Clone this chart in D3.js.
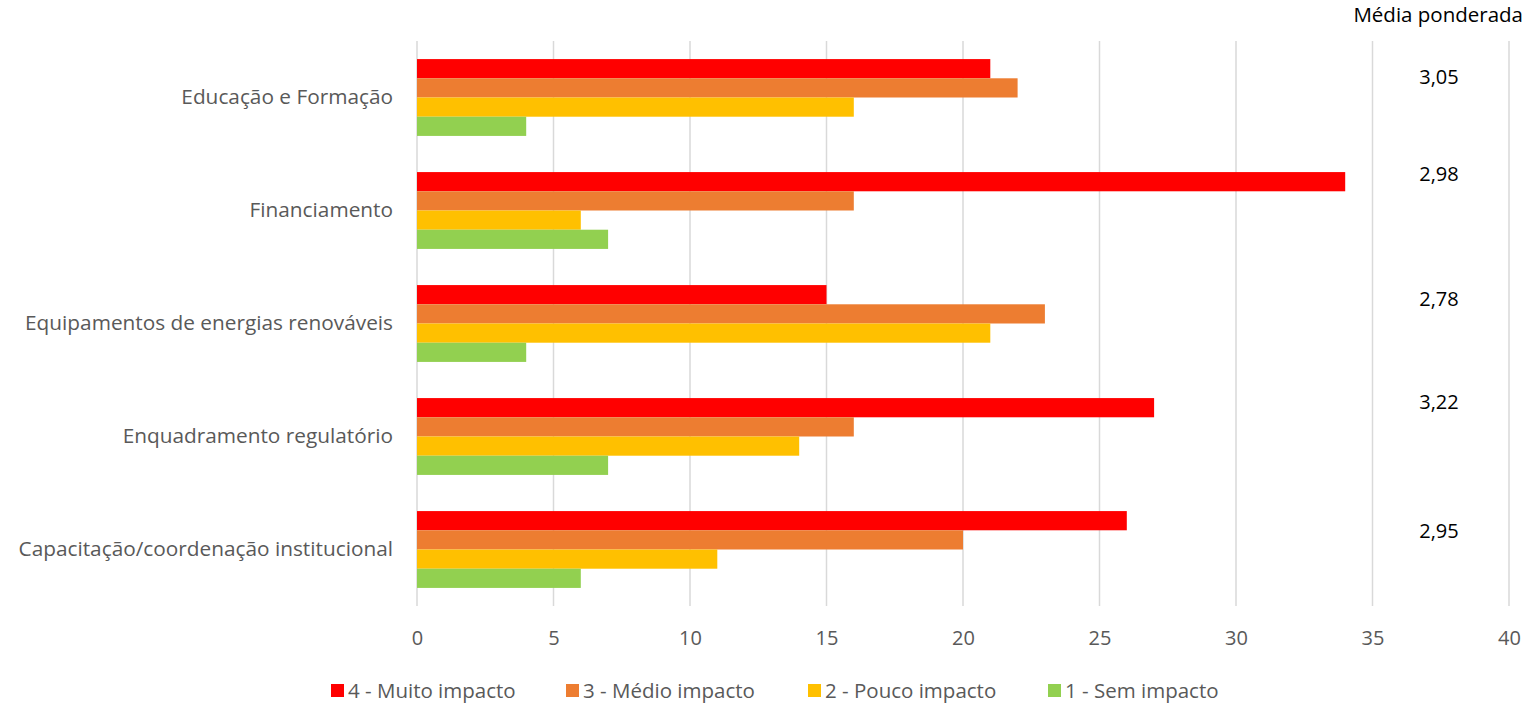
<!DOCTYPE html>
<html><head><meta charset="utf-8">
<script src="https://cdn.jsdelivr.net/npm/d3@7"></script>
<style>body{margin:0;background:#fff}svg{display:block}text{font-family:"Open Sans",sans-serif}</style>
</head><body>
<svg id="c" width="1537" height="703"></svg>
<script>
const categories = ["Educação e Formação","Financiamento","Equipamentos de energias renováveis","Enquadramento regulatório","Capacitação/coordenação institucional"];
const seriesNames = ["4 - Muito impacto","3 - Médio impacto","2 - Pouco impacto","1 - Sem impacto"];
const muito = [21,34,15,27,26];
const medio = [22,16,23,16,20];
const pouco = [16,6,21,14,11];
const sem = [4,7,4,7,6];
const mediaPonderada = ["3,05","2,98","2,78","3,22","2,95"];
const xTicks = [0,5,10,15,20,25,30,35,40];
const colors = ["#FF0000","#ED7D31","#FFC000","#92D050"];
const seriesVals = [muito, medio, pouco, sem];

const svg = d3.select("#c");
const x = d3.scaleLinear().domain([0,40]).range([417,1509]);
const y = d3.scaleBand().domain(categories).range([41,606]).paddingInner(0.32).paddingOuter(0.16);
const y1 = d3.scaleBand().domain(seriesNames).range([0,y.bandwidth()]);

// grid
svg.append("g").selectAll("line").data(xTicks).join("line")
  .attr("x1",d=>x(d)).attr("x2",d=>x(d)).attr("y1",41).attr("y2",606)
  .attr("stroke","#d9d9d9").attr("stroke-width",1.5);

// bars
const rows = categories.map((c,i)=>({c, vals: seriesVals.map((s,j)=>({name:seriesNames[j], v:s[i], col:colors[j]}))}));
const g = svg.append("g").selectAll("g").data(rows).join("g").attr("transform",d=>`translate(0,${y(d.c)})`);
g.selectAll("rect").data(d=>d.vals).join("rect")
  .attr("x",x(0)).attr("y",d=>y1(d.name)).attr("width",d=>x(d.v)-x(0)).attr("height",y1.bandwidth())
  .attr("fill",d=>d.col);

// x axis labels
const ax = svg.append("g").attr("transform","translate(0,645)").call(d3.axisBottom(x).tickValues(xTicks).tickSize(0).tickPadding(0));
ax.select(".domain").remove();
ax.selectAll("text").attr("font-size",20).attr("fill","#595959").attr("font-family","Open Sans, sans-serif").attr("dy","0");

// y labels
const ay = svg.append("g").attr("transform","translate(393,0)").call(d3.axisLeft(y).tickSize(0).tickPadding(0));
ay.select(".domain").remove();
ay.selectAll("text").attr("font-size",20.8).attr("fill","#595959").attr("font-family","Open Sans, sans-serif");

// media ponderada
svg.append("text").attr("x",1523).attr("y",22).attr("text-anchor","end").attr("font-size",20.5).attr("fill","#000").text("Média ponderada");
const nudges = [36,20,32,22,38];
svg.append("g").selectAll("text").data(categories).join("text")
  .attr("x",1439).attr("y",(d,i)=>y(d)-y.step()*y.paddingInner()/2+nudges[i]+7)
  .attr("text-anchor","middle").attr("font-size",20).attr("fill","#000")
  .text((d,i)=>mediaPonderada[i]);

// legend
const legX = [331,566,808,1048];
const lg = svg.append("g").selectAll("g").data(seriesNames).join("g").attr("transform",(d,i)=>`translate(${legX[i]},684)`);
lg.append("rect").attr("width",13).attr("height",13).attr("fill",(d,i)=>colors[i]);
lg.append("text").attr("x",17).attr("y",13.5).attr("font-size",20.5).attr("fill","#595959").text(d=>d);
</script>
</body></html>
